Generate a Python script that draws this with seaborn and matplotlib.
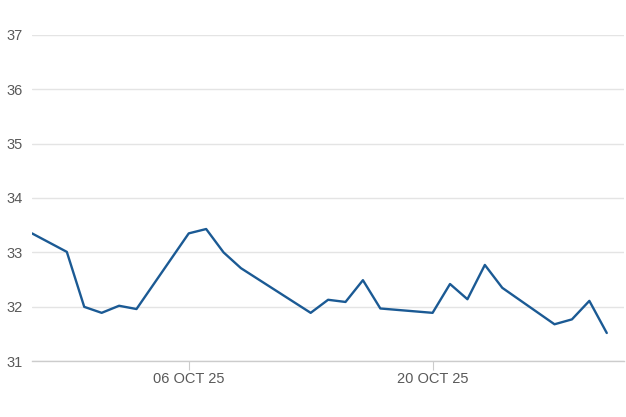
import pandas as pd
import seaborn as sns
import matplotlib.pyplot as plt

dates = [
    "2025-09-27", "2025-09-29", "2025-09-30", "2025-10-01", "2025-10-02", "2025-10-03",
    "2025-10-06", "2025-10-07", "2025-10-08", "2025-10-09",
    "2025-10-13", "2025-10-14", "2025-10-15", "2025-10-16", "2025-10-17",
    "2025-10-20", "2025-10-21", "2025-10-22", "2025-10-23", "2025-10-24",
    "2025-10-27", "2025-10-28", "2025-10-29", "2025-10-30",
]
values = [
    33.35, 33.01, 32.00, 31.89, 32.02, 31.96,
    33.35, 33.43, 33.00, 32.71,
    31.89, 32.13, 32.09, 32.49, 31.97,
    31.89, 32.42, 32.14, 32.77, 32.35,
    31.68, 31.77, 32.11, 31.52,
]
tick_dates = ["2025-10-06", "2025-10-20"]
y_ticks = [31, 32, 33, 34, 35, 36, 37]

df = pd.DataFrame({"date": pd.to_datetime(dates), "value": values})

sns.set_theme(style="white")
plt.rcParams["font.family"] = ["Liberation Sans", "DejaVu Sans"]

fig = plt.figure(figsize=(6.26, 4.17), dpi=100)
ax = fig.add_axes([0.0511, 0.1336, 0.946, 0.7832])

sns.lineplot(data=df, x="date", y="value", ax=ax, color="#1b5a94", linewidth=1.7)

ax.set_xlim(pd.Timestamp("2025-09-27"), pd.Timestamp("2025-10-31"))
ax.set_ylim(31, 37)
ax.set_yticks(y_ticks)
ax.set_xticks(pd.to_datetime(tick_dates))
ax.set_xticklabels([pd.Timestamp(d).strftime("%d %b %y").upper() for d in tick_dates])

ax.grid(axis="y", color="#e4e4e4", linewidth=1)
ax.grid(axis="x", visible=False)
for side in ["top", "right", "left"]:
    ax.spines[side].set_visible(False)
ax.spines["bottom"].set_color("#cccccc")
ax.spines["bottom"].set_linewidth(1)

ax.tick_params(axis="y", length=0, pad=7, labelsize=10.5, labelcolor="#595959")
ax.tick_params(axis="x", length=6.2, width=0.8, color="#cccccc", pad=1.2,
               labelsize=10.5, labelcolor="#595959", bottom=True)
ax.set_xlabel("")
ax.set_ylabel("")

fig.savefig("out.png", dpi=100)
plt.close(fig)
